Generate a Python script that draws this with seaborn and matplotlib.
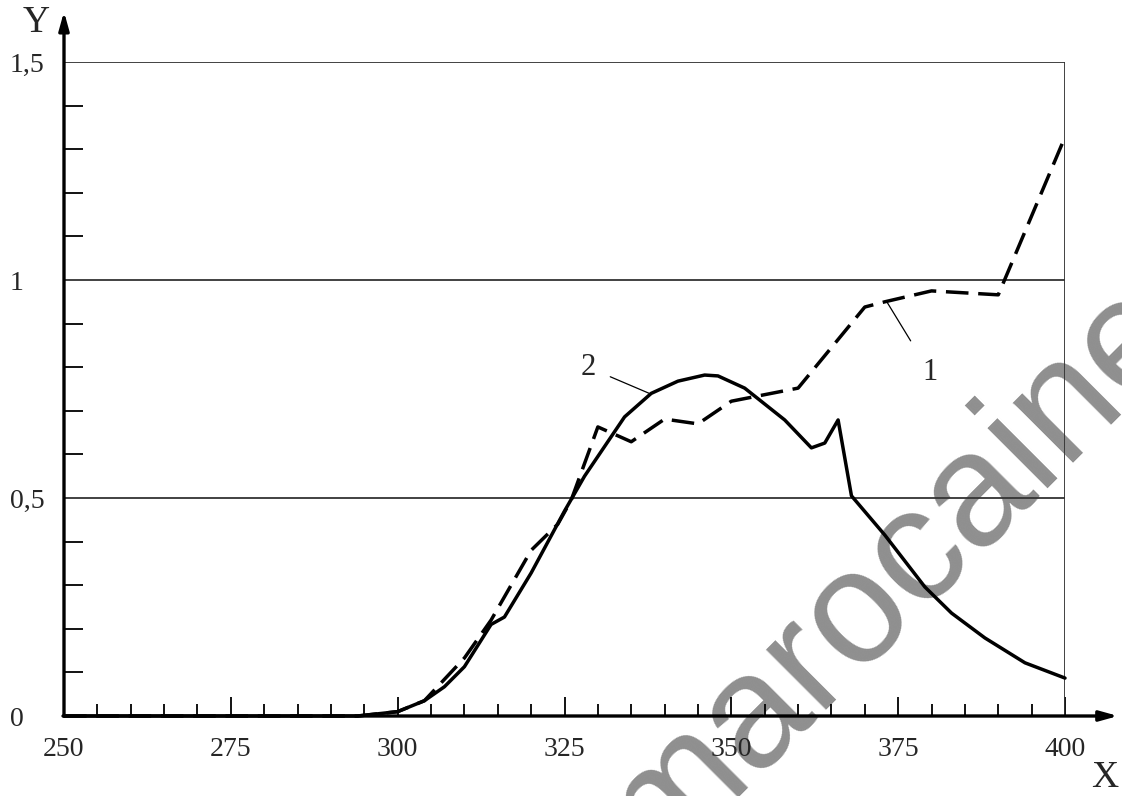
import matplotlib
matplotlib.use("Agg")
import matplotlib.pyplot as plt
import seaborn as sns
import numpy as np
import pandas as pd

# ---- data ----
x1 = [250, 294, 300, 304, 310, 314, 320, 324, 326, 330, 335, 340, 345, 350, 360, 370, 373, 380, 390, 400]
y1 = [0, 0, 0.01, 0.035, 0.133, 0.22, 0.38, 0.44, 0.495, 0.663, 0.629, 0.681, 0.670, 0.722, 0.752, 0.938, 0.95, 0.975, 0.966, 1.328]

x2 = [250, 294, 300, 304, 307, 310, 314, 316, 320, 325, 328, 334, 338, 342, 346, 348, 352, 358, 362, 364, 366, 368, 373, 379, 383, 388, 394, 400]
y2 = [0, 0, 0.01, 0.035, 0.067, 0.113, 0.21, 0.227, 0.328, 0.47, 0.55, 0.686, 0.74, 0.768, 0.782, 0.78, 0.752, 0.679, 0.615, 0.626, 0.679, 0.505, 0.415, 0.296, 0.236, 0.179, 0.122, 0.087]

xticks = [250, 275, 300, 325, 350, 375, 400]
xtick_labels = ["250", "275", "300", "325", "350", "375", "400"]
yticks = [0, 0.5, 1, 1.5]
ytick_labels = ["0", "0,5", "1", "1,5"]
grid_y = [0.5, 1.0, 1.5]

sns.set_theme(style="white")
plt.rcParams['font.family'] = ['Liberation Serif', 'DejaVu Serif']

fig = plt.figure(figsize=(11.22, 7.96), dpi=100)
ax = fig.add_axes([64/1122, 80/796, 1001/1122, 654/796])

df1 = pd.DataFrame({"x": x1, "y": y1})
df2 = pd.DataFrame({"x": x2, "y": y2})
sns.lineplot(data=df1, x="x", y="y", ax=ax, color="black", linewidth=2.5, sort=False, clip_on=False)
ax.lines[-1].set_dashes((6.5, 2.8))
sns.lineplot(data=df2, x="x", y="y", ax=ax, color="black", linewidth=2.5, sort=False, clip_on=False)

ax.set_xlim(250, 400)
ax.set_ylim(0, 1.5)

# grid lines and right frame
for gy in grid_y:
    ax.axhline(gy, color="#333333", linewidth=1.3, zorder=1)
ax.axvline(400, ymin=0, ymax=1, color="#333333", linewidth=1.3, zorder=1)

for s in ["top", "right", "left", "bottom"]:
    ax.spines[s].set_visible(False)

# axes with arrows
ax.annotate("", xy=(0, 1.077), xytext=(0, 0), xycoords="axes fraction",
            arrowprops=dict(arrowstyle="-|>,head_length=0.9,head_width=0.25", color="black", lw=2.4,
                            shrinkA=0, shrinkB=0), annotation_clip=False)
ax.annotate("", xy=(1.053, 0), xytext=(-0.001, 0), xycoords="axes fraction",
            arrowprops=dict(arrowstyle="-|>,head_length=0.9,head_width=0.25", color="black", lw=2.4,
                            shrinkA=0, shrinkB=0), annotation_clip=False)

# ticks
ax.set_xticks(xticks, labels=xtick_labels)
ax.set_xticks(np.arange(255, 400, 5), minor=True)
ax.set_yticks(yticks, labels=ytick_labels)
ax.set_yticks(np.arange(0.1, 1.5, 0.1), minor=True)
ax.tick_params(which="both", bottom=True, left=True, top=False, right=False)
ax.tick_params(axis="x", which="major", direction="in", length=14, width=1.3, color="black",
               labelsize=20, pad=15)
ax.tick_params(axis="x", which="minor", direction="in", length=8.5, width=1.3, color="black")
ax.tick_params(axis="y", which="major", direction="in", length=0, labelsize=20, pad=39)
ax.tick_params(axis="y", which="minor", direction="in", length=14, width=1.3, color="black")
for lab in ax.get_yticklabels():
    lab.set_horizontalalignment("left")
ax.set_xlabel("")
ax.set_ylabel("")

# axis names
fig.text(36/1122, 1 - 23/796, "Y", fontsize=27, ha="center", va="center")
fig.text(1105/1122, 1 - 778/796, "X", fontsize=27, ha="center", va="center")

# curve labels with leaders
ax.annotate("2", xy=(337.7, 0.74), xytext=(328.5, 0.80), fontsize=22, ha="center", va="center",
            arrowprops=dict(arrowstyle="-", color="black", lw=0.9, shrinkA=9, shrinkB=0))
ax.annotate("1", xy=(373.3, 0.95), xytext=(379.8, 0.787), fontsize=22, ha="center", va="center",
            arrowprops=dict(arrowstyle="-", color="black", lw=0.9, shrinkA=12, shrinkB=0))

# watermark (behind the plot content)
ax.patch.set_alpha(0)
ax.text(895/1122, 1 - 572/796, "marocaine", fontsize=116, fontfamily="Liberation Sans",
        color="#8f8f8f", rotation=45, ha="center", va="center", rotation_mode="anchor",
        transform=fig.transFigure, zorder=0.5, clip_on=False)

fig.savefig("out.png", dpi=100)
